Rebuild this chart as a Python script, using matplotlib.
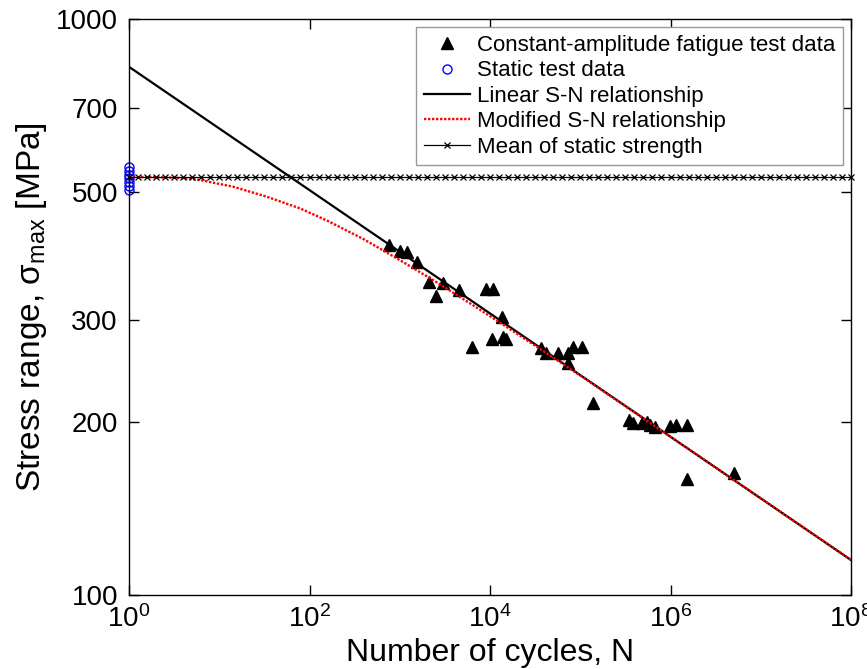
import numpy as np
import matplotlib
matplotlib.use("Agg")
import matplotlib.pyplot as plt
from matplotlib.ticker import FixedLocator, FixedFormatter, NullLocator, LogFormatterMathtext

plt.rcParams['font.family'] = ['Liberation Sans', 'DejaVu Sans']
plt.rcParams['mathtext.default'] = 'regular'

# ── 数据 ──
# 恒幅疲劳试验数据: N (cycles), S (MPa)
fat_N = [766, 1006, 1194, 1535, 2125, 2502, 2992, 4536, 8960, 10880,
         13680, 6270, 10610, 14040, 15040, 36290, 41720, 57100, 72800, 83180,
         103800, 72240, 137400, 349700, 381400, 479600, 544900, 592400, 673300, 986500,
         1150000, 1535000, 1513000, 5093000]
fat_S = [404.4, 395.5, 394.5, 379.0, 349.9, 330.5, 347.6, 338.4, 339.9, 339.9,
         303.4, 269.2, 277.9, 280.1, 278.2, 267.9, 263.4, 263.4, 263.4, 269.9,
         269.9, 253.1, 215.2, 201.3, 198.7, 198.7, 200.0, 197.3, 196.0, 196.5,
         197.3, 197.3, 158.8, 162.7]

# 静力试验数据 (N = 1)
static_S = [553, 545, 537, 529, 521, 513, 505]
static_N = [1] * len(static_S)

# 线性 S-N 关系 (log-log 直线, 两端点)
lin_N = [1, 1e8]
lin_S = [826, 115]

# 修正 S-N 关系
mod_N = [1, 2, 3.7, 6.1, 14.2, 33.8, 78.5, 158.5, 398, 1000, 2512, 6310,
         15850, 39810, 1e5, 1e6, 1e7, 1e8]
mod_S = [532, 531.5, 529.6, 525.5, 511.6, 491.3, 469.0, 446.3, 414.7, 381.5, 349.8, 319.3,
         290.9, 264.6, 240.4, 188.2, 147.2, 115.1]

# 静强度均值
mean_static = 531
mean_N = np.logspace(0, 8, 81)

x_ticks = [1, 1e2, 1e4, 1e6, 1e8]
y_ticks = [100, 200, 300, 500, 700, 1000]
y_ticklabels = ['100', '200', '300', '500', '700', '1000']

# ── 绘图 ──
fig = plt.figure(figsize=(8.67, 6.69), dpi=100)
ax = fig.add_axes([129 / 867, 1 - 595 / 669, 722 / 867, 576 / 669])

ax.plot(fat_N, fat_S, '^', color='k', ms=9, ls='none',
        label='Constant-amplitude fatigue test data')
ax.plot(static_N, static_S, 'o', mfc='none', mec='b', ms=6.5, mew=1.0, ls='none',
        clip_on=False, label='Static test data')
ax.plot(lin_N, lin_S, '-', color='k', lw=1.6, label='Linear S-N relationship')
ax.plot(mod_N, mod_S, color='r', lw=1.7, ls=(0, (1, 0.7)), label='Modified S-N relationship')
ax.plot(mean_N, [mean_static] * len(mean_N), '-x', color='k', lw=0.9, ms=4, mew=0.9,
        clip_on=False, label='Mean of static strength')

ax.set_xscale('log')
ax.set_yscale('log')
ax.set_xlim(1, 1e8)
ax.set_ylim(100, 1000)

ax.xaxis.set_major_locator(FixedLocator(x_ticks))
ax.xaxis.set_major_formatter(LogFormatterMathtext())
ax.xaxis.set_minor_locator(NullLocator())
ax.yaxis.set_major_locator(FixedLocator(y_ticks))
ax.yaxis.set_major_formatter(FixedFormatter(y_ticklabels))
ax.yaxis.set_minor_locator(NullLocator())

ax.tick_params(which='both', direction='in', top=True, right=True,
               length=7, width=1.0, labelsize=20)
ax.tick_params(axis='x', pad=7)
ax.tick_params(axis='y', pad=8)
for sp in ax.spines.values():
    sp.set_linewidth(1.0)

ax.set_xlabel('Number of cycles, N', fontsize=23, labelpad=4)
ax.set_ylabel('Stress range, σ$_{max}$ [MPa]', fontsize=24, labelpad=5)

leg = ax.legend(loc='upper right', bbox_to_anchor=(0.989, 0.986), borderaxespad=0,
                fontsize=16, fancybox=False, framealpha=1, edgecolor='0.6',
                handlelength=2.1, labelspacing=0.2, borderpad=0.35, handletextpad=0.3)
leg.get_frame().set_linewidth(1.0)

fig.savefig('out.png', dpi=100)
